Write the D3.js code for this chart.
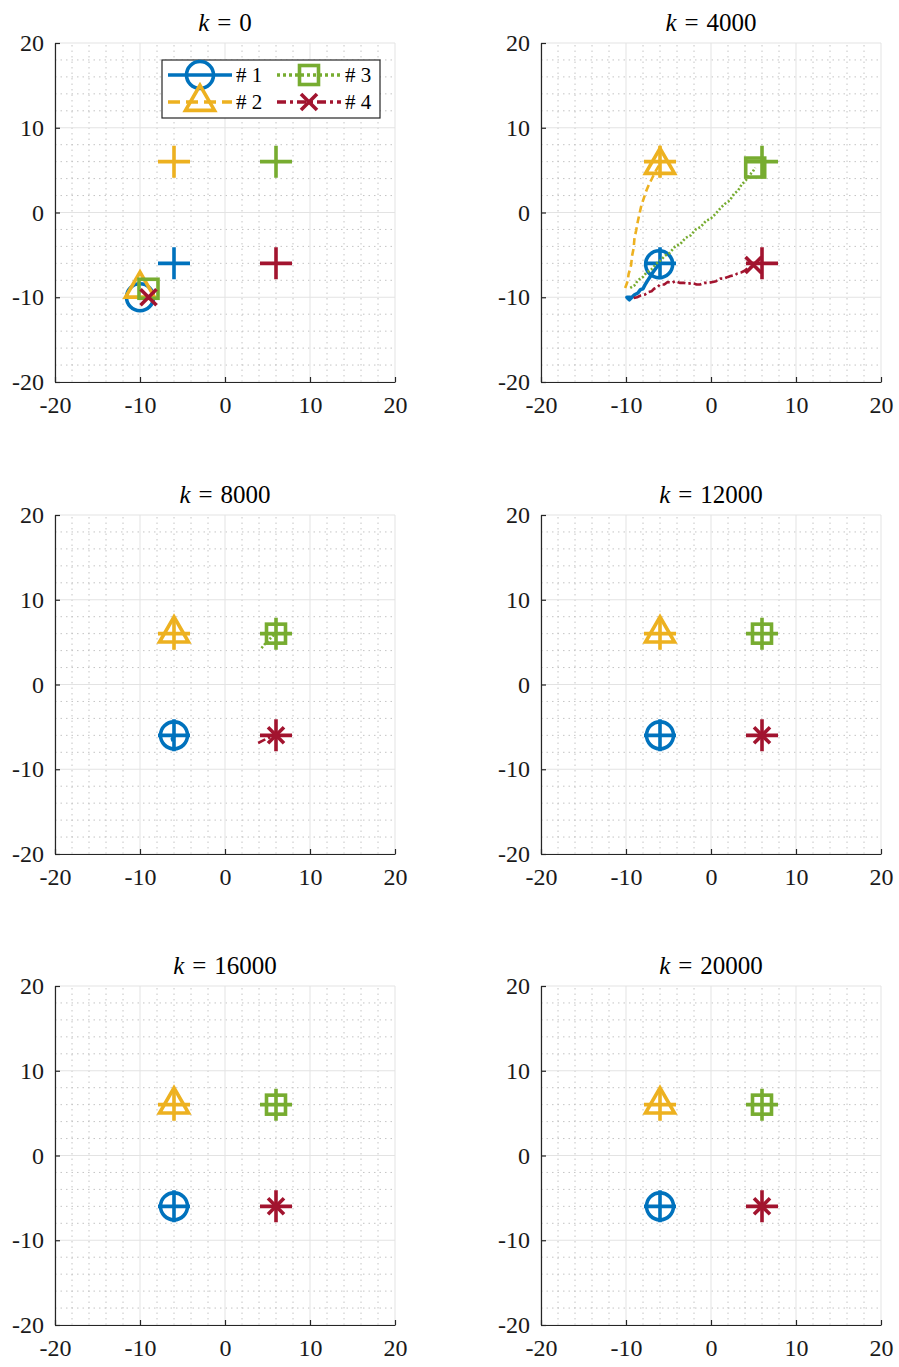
<!DOCTYPE html>
<html>
<head>
<meta charset="utf-8">
<script src="https://cdn.jsdelivr.net/npm/d3@7/dist/d3.min.js"></script>
<style>
  html, body { margin: 0; padding: 0; background: #fff; }
  svg { display: block; }
  text { font-family: "Liberation Serif", "Times New Roman", serif; fill: #000; }
</style>
</head>
<body>
<svg id="chart" width="899" height="1367"></svg>
<script>
// Time steps shown, one per panel (row-major, two columns)
const panelSteps = [0, 4000, 8000, 12000, 16000, 20000];

// Agent labels and goal positions (#1..#4)
const agentNames = ["# 1", "# 2", "# 3", "# 4"];
const agentColors = ["#0072BD", "#EDB120", "#77AC30", "#A2142F"];
const agentMarkers = ["circle", "triangle", "square", "x"];
const agentDashes = [null, "7,4", "2,2", "8,3,2.5,3"];
const goals = [[-6, -6], [-6, 6], [6, 6], [6, -6]];

// Agent positions at each shown step
const posK0 = [[-10, -10], [-10, -9], [-9, -9], [-9, -10]];
const posK4000 = [[-6.1, -6.1], [-6.0, 5.6], [5.2, 5.3], [5.0, -6.2]];
const posK8000 = [[-6.0, -6.0], [-6.0, 6.0], [6.0, 6.0], [6.0, -6.0]];
const posK12000 = [[-6, -6], [-6, 6], [6, 6], [6, -6]];
const posK16000 = [[-6, -6], [-6, 6], [6, 6], [6, -6]];
const posK20000 = [[-6, -6], [-6, 6], [6, 6], [6, -6]];
const positions = [posK0, posK4000, posK8000, posK12000, posK16000, posK20000];

// Recent trajectory of each agent, drawn behind its marker
const trailK4000_1 = [[-9.8, -10.4], [-9.5, -10.0], [-9.9, -10.0], [-9.6, -10.3], [-9.3, -10.0],
  [-9.0, -9.7], [-8.6, -9.5], [-8.3, -9.1], [-8.0, -9.0], [-7.8, -8.6], [-7.5, -8.1], [-7.1, -7.5],
  [-6.8, -7.0], [-6.5, -6.6], [-6.1, -6.1]];
const trailK4000_2 = [[-10.1, -8.9], [-9.8, -8.1], [-9.7, -7.3], [-9.4, -6.2], [-9.3, -5.2], [-9.1, -4.2],
  [-9.0, -3.0], [-8.8, -2.1], [-8.6, -1.0], [-8.4, -0.1], [-8.2, 0.8], [-7.9, 1.7], [-7.6, 2.6],
  [-7.3, 3.3], [-6.9, 4.1], [-6.5, 4.9], [-6.1, 5.6]];
const trailK4000_3 = [[-9.5, -8.9], [-9.0, -8.6], [-8.6, -8.0], [-8.0, -7.6], [-7.6, -7.1], [-7.0, -6.7],
  [-6.5, -6.1], [-6.0, -5.7], [-5.4, -5.1], [-4.9, -4.8], [-4.2, -4.0], [-3.6, -3.7], [-3.0, -3.0],
  [-2.4, -2.7], [-1.8, -2.0], [-1.2, -1.7], [-0.6, -1.0], [0.0, -0.7], [0.6, -0.1], [1.1, 0.5],
  [1.6, 1.0], [2.2, 1.4], [2.7, 2.2], [3.2, 2.6], [3.6, 3.3], [4.1, 3.8], [4.5, 4.4], [4.9, 4.8], [5.2, 5.3]];
const trailK4000_4 = [[-9.1, -10.1], [-8.7, -10.0], [-8.3, -9.8], [-7.8, -9.7], [-7.4, -9.4], [-7.0, -9.3],
  [-6.7, -9.0], [-6.3, -8.8], [-6.0, -8.5], [-5.5, -8.5], [-5.1, -8.2], [-4.6, -8.3], [-4.2, -8.1],
  [-3.7, -8.3], [-3.2, -8.3], [-2.7, -8.4], [-2.2, -8.3], [-1.7, -8.5], [-1.3, -8.5], [-0.8, -8.3],
  [-0.3, -8.3], [0.2, -8.2], [0.6, -8.1], [1.1, -7.8], [1.5, -7.8], [2.0, -7.6], [2.3, -7.5],
  [2.8, -7.4], [3.1, -7.2], [3.5, -7.1], [3.9, -6.9], [4.3, -6.6], [4.6, -6.5], [5.0, -6.2]];
const trailK8000_1 = [[-6.1, -6.7], [-6.2, -6.4], [-6.0, -6.1]];
const trailK8000_3 = [[4.3, 4.3], [4.8, 4.9], [5.3, 5.4], [5.8, 5.9]];
const trailK8000_4 = [[3.9, -6.9], [4.5, -6.6], [5.1, -6.3], [5.7, -6.1]];
const trails = [
  [[], [], [], []],
  [trailK4000_1, trailK4000_2, trailK4000_3, trailK4000_4],
  [trailK8000_1, [], trailK8000_3, trailK8000_4],
  [[], [], [], []],
  [[], [], [], []],
  [[], [], [], []]
];

// Axis ticks
const majorTicks = [-20, -10, 0, 10, 20];
const minorTicks = [-18, -16, -14, -12, -8, -6, -4, -2, 2, 4, 6, 8, 12, 14, 16, 18];

// ---- layout ----
const colX = [55, 541];
const rowY = [43, 515, 986];
const plotW = 340, plotH = 339;

const svg = d3.select("#chart");

function drawMarker(g, type, color, x, y) {
  const sw = 3.6;
  if (type === "circle") {
    g.append("circle").attr("cx", x).attr("cy", y).attr("r", 13.5)
      .attr("fill", "none").attr("stroke", color).attr("stroke-width", sw);
  } else if (type === "triangle") {
    const s = 29, h = s * Math.sqrt(3) / 2;
    const pts = [[x, y - 2 * h / 3], [x - s / 2, y + h / 3], [x + s / 2, y + h / 3]];
    g.append("polygon").attr("points", pts.map(p => p.join(",")).join(" "))
      .attr("fill", "none").attr("stroke", color).attr("stroke-width", sw)
      .attr("stroke-linejoin", "miter");
  } else if (type === "square") {
    const s = 19;
    g.append("rect").attr("x", x - s / 2).attr("y", y - s / 2).attr("width", s).attr("height", s)
      .attr("fill", "none").attr("stroke", color).attr("stroke-width", sw);
  } else if (type === "x") {
    const a = 8;
    g.append("path").attr("d", `M${x - a},${y - a}L${x + a},${y + a}M${x - a},${y + a}L${x + a},${y - a}`)
      .attr("stroke", color).attr("stroke-width", sw).attr("fill", "none");
  } else if (type === "plus") {
    const a = 16;
    g.append("path").attr("d", `M${x - a},${y}L${x + a},${y}M${x},${y - a}L${x},${y + a}`)
      .attr("stroke", color).attr("stroke-width", sw).attr("fill", "none");
  }
}

panelSteps.forEach((step, i) => {
  const x0 = colX[i % 2], y0 = rowY[Math.floor(i / 2)];
  const x = d3.scaleLinear().domain([-20, 20]).range([x0, x0 + plotW]);
  const y = d3.scaleLinear().domain([-20, 20]).range([y0 + plotH, y0]);
  const g = svg.append("g");

  // minor grid (dotted)
  const grid = g.append("g");
  minorTicks.forEach(t => {
    grid.append("line").attr("x1", x(t)).attr("x2", x(t)).attr("y1", y(-20)).attr("y2", y(20))
      .attr("stroke", "#c4c4c4").attr("stroke-width", 1).attr("stroke-dasharray", "1.5,4");
    grid.append("line").attr("y1", y(t)).attr("y2", y(t)).attr("x1", x(-20)).attr("x2", x(20))
      .attr("stroke", "#c4c4c4").attr("stroke-width", 1).attr("stroke-dasharray", "1.5,4");
  });
  // major grid
  majorTicks.forEach(t => {
    grid.append("line").attr("x1", x(t)).attr("x2", x(t)).attr("y1", y(-20)).attr("y2", y(20))
      .attr("stroke", "#e3e3e3").attr("stroke-width", 1);
    grid.append("line").attr("y1", y(t)).attr("y2", y(t)).attr("x1", x(-20)).attr("x2", x(20))
      .attr("stroke", "#e3e3e3").attr("stroke-width", 1);
  });

  // axes (left & bottom, ticks pointing inward)
  const xAxis = d3.axisBottom(x).tickValues(majorTicks).tickSizeInner(-5).tickSizeOuter(0)
    .tickPadding(14).tickFormat(d => String(d));
  const yAxis = d3.axisLeft(y).tickValues(majorTicks).tickSizeInner(-5).tickSizeOuter(0)
    .tickPadding(11).tickFormat(d => String(d));
  const ax = g.append("g").attr("transform", `translate(0,${y0 + plotH})`).call(xAxis);
  const ay = g.append("g").attr("transform", `translate(${x0},0)`).call(yAxis);
  [ax, ay].forEach(a => {
    a.select(".domain").attr("stroke", "#262626").attr("stroke-width", 1.2);
    a.selectAll(".tick line").attr("stroke", "#262626").attr("stroke-width", 1.2);
    a.selectAll(".tick text").attr("font-size", 24).style("fill", "#1a1a1a");
  });
  ax.selectAll(".tick text").attr("dy", "0.71em");

  // title
  const title = g.append("text").attr("x", x(0)).attr("y", y0 - 12)
    .attr("text-anchor", "middle").attr("font-size", 25);
  title.append("tspan").attr("font-style", "italic").text("k");
  title.append("tspan").attr("dx", 8).text("=");
  title.append("tspan").attr("dx", 8).text(String(step));

  // goal markers
  goals.forEach((p, j) => drawMarker(g, "plus", agentColors[j], x(p[0]), y(p[1])));

  // trails and agents
  const line = d3.line().x(d => x(d[0])).y(d => y(d[1]));
  agentNames.forEach((name, j) => {
    const tr = trails[i][j];
    if (tr.length > 1) {
      g.append("path").attr("d", line(tr)).attr("fill", "none")
        .attr("stroke", agentColors[j]).attr("stroke-width", j === 0 ? 3.5 : 2.6)
        .attr("stroke-linejoin", "round")
        .attr("stroke-dasharray", agentDashes[j]);
    }
    const p = positions[i][j];
    drawMarker(g, agentMarkers[j], agentColors[j], x(p[0]), y(p[1]));
  });

  // legend in the first panel
  if (i === 0) {
    const lg = g.append("g");
    lg.append("rect").attr("x", 162).attr("y", 60).attr("width", 218).attr("height", 58)
      .attr("fill", "#fff").attr("stroke", "#262626").attr("stroke-width", 1.2);
    const legendDashes = [null, "12,6", "3,3", "9,4,3,4"];
    agentNames.forEach((name, j) => {
      const cx = j < 2 ? 168 : 277;
      const cy = j % 2 === 0 ? 75 : 102;
      lg.append("line").attr("x1", cx).attr("x2", cx + 64).attr("y1", cy).attr("y2", cy)
        .attr("stroke", agentColors[j]).attr("stroke-width", 3.5)
        .attr("stroke-dasharray", legendDashes[j]);
      drawMarker(lg, agentMarkers[j], agentColors[j], cx + 32, cy);
      lg.append("text").attr("x", cx + 68).attr("y", cy + 7).attr("font-size", 21).text(name);
    });
  }
});
</script>
</body>
</html>
